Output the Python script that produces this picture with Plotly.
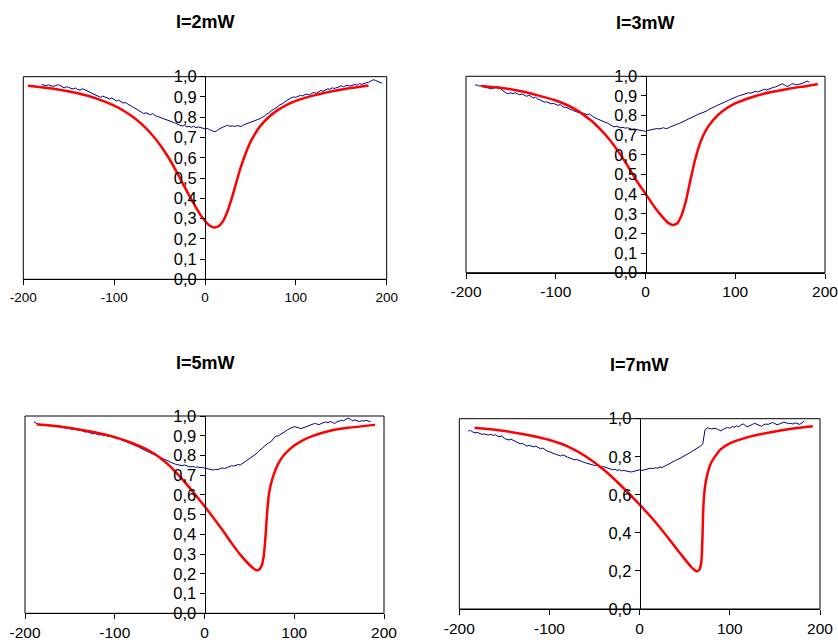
import numpy as np
import plotly.graph_objects as go

titles = ["I=2mW", "I=3mW", "I=5mW", "I=7mW"]
x_ticks = [-200, -100, 0, 100, 200]
x_tick_labels = ["-200", "-100", "0", "100", "200"]

# ---------- measured (blue) data, sampled every 2.5 units ----------
blue1_start, blue_step = -180.0, 2.5
blue1_y = [
    0.962, 0.958, 0.955, 0.960, 0.957, 0.952, 0.955, 0.960, 0.958, 0.950,
    0.945, 0.950, 0.948, 0.942, 0.940, 0.944, 0.936, 0.934, 0.940, 0.936,
    0.930, 0.926, 0.918, 0.912, 0.906, 0.902, 0.898, 0.904, 0.900, 0.894,
    0.890, 0.895, 0.886, 0.880, 0.884, 0.876, 0.870, 0.872, 0.864, 0.858,
    0.852, 0.846, 0.840, 0.834, 0.824, 0.818, 0.822, 0.816, 0.812, 0.818,
    0.808, 0.804, 0.800, 0.796, 0.794, 0.788, 0.784, 0.780, 0.775, 0.770,
    0.764, 0.760, 0.756, 0.760, 0.752, 0.755, 0.750, 0.756, 0.748, 0.752,
    0.750, 0.746, 0.742, 0.745, 0.738, 0.735, 0.728, 0.732, 0.740, 0.748,
    0.752, 0.756, 0.760, 0.755, 0.758, 0.754, 0.758, 0.757, 0.754, 0.762,
    0.766, 0.770, 0.776, 0.780, 0.784, 0.786, 0.792, 0.798, 0.804, 0.815,
    0.820, 0.830, 0.836, 0.844, 0.852, 0.862, 0.866, 0.874, 0.884, 0.890,
    0.896, 0.900, 0.898, 0.904, 0.908, 0.905, 0.912, 0.914, 0.910, 0.918,
    0.922, 0.918, 0.926, 0.932, 0.928, 0.934, 0.940, 0.938, 0.945, 0.942,
    0.948, 0.950, 0.955, 0.950, 0.956, 0.958, 0.954, 0.960, 0.962, 0.958,
    0.966, 0.962, 0.968, 0.970, 0.972, 0.978, 0.985, 0.982, 0.975, 0.972,
    0.968,
]
blue2_start = -190.0
blue2_y = [
    0.956, 0.955, 0.950, 0.952, 0.946, 0.944, 0.940, 0.936, 0.938, 0.942,
    0.948, 0.944, 0.930, 0.920, 0.914, 0.912, 0.916, 0.912, 0.916, 0.910,
    0.906, 0.910, 0.902, 0.898, 0.904, 0.896, 0.890, 0.894, 0.884, 0.880,
    0.872, 0.868, 0.870, 0.864, 0.860, 0.862, 0.855, 0.852, 0.856, 0.846,
    0.842, 0.840, 0.834, 0.830, 0.826, 0.822, 0.816, 0.818, 0.812, 0.806,
    0.804, 0.808, 0.798, 0.792, 0.786, 0.780, 0.776, 0.770, 0.766, 0.762,
    0.756, 0.750, 0.742, 0.746, 0.742, 0.738, 0.740, 0.736, 0.738, 0.734,
    0.730, 0.732, 0.728, 0.726, 0.724, 0.722, 0.720, 0.724, 0.726, 0.728,
    0.730, 0.734, 0.732, 0.736, 0.738, 0.734, 0.736, 0.742, 0.748, 0.752,
    0.756, 0.760, 0.764, 0.770, 0.776, 0.782, 0.786, 0.794, 0.798, 0.804,
    0.808, 0.812, 0.818, 0.822, 0.830, 0.834, 0.838, 0.846, 0.852, 0.856,
    0.862, 0.866, 0.872, 0.878, 0.884, 0.890, 0.893, 0.898, 0.902, 0.906,
    0.908, 0.912, 0.916, 0.914, 0.920, 0.924, 0.920, 0.926, 0.930, 0.934,
    0.930, 0.936, 0.940, 0.944, 0.946, 0.950, 0.958, 0.962, 0.956, 0.948,
    0.952, 0.960, 0.962, 0.956, 0.958, 0.960, 0.964, 0.970, 0.976, 0.970,
]
blue3_start = -190.0
blue3_y = [
    0.971, 0.962, 0.956, 0.952, 0.954, 0.956, 0.952, 0.955, 0.950, 0.948,
    0.946, 0.952, 0.948, 0.940, 0.938, 0.942, 0.935, 0.932, 0.936, 0.930,
    0.926, 0.928, 0.922, 0.918, 0.920, 0.914, 0.910, 0.912, 0.908, 0.904,
    0.906, 0.900, 0.902, 0.896, 0.898, 0.892, 0.888, 0.884, 0.886, 0.878,
    0.874, 0.870, 0.866, 0.860, 0.856, 0.852, 0.846, 0.840, 0.834, 0.828,
    0.824, 0.818, 0.812, 0.808, 0.802, 0.796, 0.792, 0.786, 0.780, 0.774,
    0.770, 0.764, 0.760, 0.756, 0.752, 0.750, 0.748, 0.752, 0.746, 0.744,
    0.742, 0.744, 0.740, 0.742, 0.738, 0.740, 0.736, 0.734, 0.730, 0.728,
    0.726, 0.730, 0.728, 0.734, 0.736, 0.734, 0.740, 0.744, 0.748, 0.746,
    0.750, 0.754, 0.752, 0.760, 0.770, 0.778, 0.786, 0.794, 0.798, 0.808,
    0.820, 0.830, 0.842, 0.852, 0.860, 0.866, 0.874, 0.890, 0.898, 0.900,
    0.906, 0.914, 0.922, 0.930, 0.938, 0.942, 0.946, 0.944, 0.940, 0.936,
    0.940, 0.944, 0.948, 0.952, 0.958, 0.962, 0.960, 0.956, 0.962, 0.966,
    0.970, 0.966, 0.972, 0.968, 0.962, 0.970, 0.974, 0.978, 0.976, 0.982,
    0.990, 0.984, 0.976, 0.980, 0.976, 0.972, 0.976, 0.974, 0.978, 0.976,
    0.971,
]
blue4_start = -190.0
blue4_y = [
    0.935, 0.938, 0.930, 0.926, 0.928, 0.924, 0.918, 0.920, 0.916, 0.914,
    0.918, 0.912, 0.916, 0.908, 0.906, 0.910, 0.896, 0.890, 0.888, 0.892,
    0.886, 0.880, 0.872, 0.868, 0.870, 0.862, 0.856, 0.860, 0.854, 0.852,
    0.856, 0.848, 0.842, 0.846, 0.836, 0.830, 0.826, 0.820, 0.818, 0.812,
    0.808, 0.804, 0.810, 0.802, 0.798, 0.794, 0.790, 0.784, 0.786, 0.780,
    0.776, 0.772, 0.768, 0.766, 0.762, 0.758, 0.754, 0.756, 0.750, 0.746,
    0.748, 0.744, 0.740, 0.736, 0.732, 0.734, 0.728, 0.732, 0.726, 0.728,
    0.724, 0.722, 0.720, 0.722, 0.726, 0.728, 0.732, 0.728, 0.732, 0.736,
    0.736, 0.740, 0.738, 0.742, 0.740, 0.746, 0.744, 0.752, 0.756, 0.762,
    0.770, 0.776, 0.782, 0.786, 0.792, 0.800, 0.806, 0.812, 0.818, 0.826,
    0.834, 0.840, 0.848, 0.856, 0.868, 0.942, 0.952, 0.948, 0.946, 0.950,
    0.948, 0.942, 0.936, 0.944, 0.948, 0.954, 0.950, 0.958, 0.955, 0.962,
    0.958, 0.968, 0.972, 0.962, 0.958, 0.966, 0.970, 0.976, 0.972, 0.965,
    0.960, 0.968, 0.972, 0.970, 0.976, 0.980, 0.974, 0.968, 0.972, 0.976,
    0.982, 0.978, 0.974, 0.976, 0.972, 0.978, 0.974, 0.970, 0.978, 0.988,
]

# ---------- fitted (red) curves ----------
red1_x = [-195, -180, -160, -140, -120, -100, -90, -80, -70, -60, -50, -40, -30, -20, -10, -5, 0, 5, 10, 15,
          20, 25, 30, 35, 40, 45, 50, 55, 60, 70, 80, 90, 100, 120, 140, 160, 180]
red1_y = [0.955, 0.948, 0.936, 0.918, 0.893, 0.857, 0.833, 0.803, 0.767, 0.722, 0.667, 0.600, 0.520, 0.435,
          0.355, 0.318, 0.288, 0.266, 0.256, 0.262, 0.288, 0.338, 0.408, 0.487, 0.562, 0.625, 0.677, 0.718,
          0.752, 0.800, 0.835, 0.861, 0.881, 0.908, 0.928, 0.944, 0.957]

red2_x = [-183, -160, -140, -120, -100, -80, -60, -50, -40, -30, -20, -10, 0, 10, 20, 25, 30, 35, 40, 45,
          50, 55, 60, 65, 70, 80, 90, 100, 120, 140, 160, 180, 192]
red2_y = [0.951, 0.941, 0.925, 0.903, 0.877, 0.837, 0.772, 0.728, 0.677, 0.615, 0.545, 0.468, 0.402, 0.335,
          0.278, 0.255, 0.243, 0.250, 0.290, 0.365, 0.470, 0.570, 0.650, 0.705, 0.745, 0.800, 0.836, 0.862,
          0.896, 0.920, 0.937, 0.951, 0.961]

red3_x = [-187, -160, -140, -120, -100, -80, -60, -50, -40, -30, -20, -10, 0, 10, 20, 30, 40, 50, 55, 58,
          61, 64, 66, 67.5, 69, 70.5, 72, 75, 80, 85, 90, 100, 110, 120, 140, 160, 190]
red3_y = [0.958, 0.946, 0.932, 0.915, 0.893, 0.862, 0.820, 0.790, 0.752, 0.705, 0.655, 0.600, 0.543, 0.483,
          0.422, 0.357, 0.296, 0.246, 0.226, 0.218, 0.222, 0.245, 0.290, 0.360, 0.460, 0.550, 0.610, 0.672,
          0.738, 0.780, 0.810, 0.850, 0.878, 0.898, 0.925, 0.940, 0.955]

red4_x = [-183, -160, -140, -120, -100, -80, -60, -40, -20, 0, 20, 40, 50, 57, 60, 63, 66, 68, 69, 69.8,
          70.5, 71.5, 73, 76, 80, 90, 100, 120, 150, 170, 192]
red4_y = [0.953, 0.942, 0.928, 0.910, 0.888, 0.855, 0.803, 0.733, 0.645, 0.548, 0.443, 0.322, 0.262, 0.222,
          0.208, 0.198, 0.205, 0.235, 0.290, 0.400, 0.520, 0.600, 0.660, 0.725, 0.775, 0.840, 0.870, 0.903,
          0.933, 0.948, 0.960]

blue_sets = [(blue1_start, blue1_y), (blue2_start, blue2_y), (blue3_start, blue3_y), (blue4_start, blue4_y)]
red_sets = [(red1_x, red1_y), (red2_x, red2_y), (red3_x, red3_y), (red4_x, red4_y)]
y_dticks = [0.1, 0.1, 0.1, 0.2]

W, H = 838, 644
# plot-area boxes in pixels: left, right, top, bottom
boxes = [(23.3, 386.7, 76.7, 279.3), (466, 825, 76.3, 272.7), (25, 384, 416, 613.3), (459.3, 820, 418.7, 609)]
title_pos = [(205, 22.5), (645, 23), (205, 362.5), (639, 365)]
xfont = [13.5, 15.5, 15.5, 15.5]

FONT = "Arial, Liberation Sans, sans-serif"
fig = go.Figure()
layout = dict(width=W, height=H, margin=dict(l=0, r=0, t=0, b=0, autoexpand=False), paper_bgcolor="white",
              plot_bgcolor="white", showlegend=False, separators=",.", font=dict(family=FONT, color="black"))
shapes, annotations = [], []

for i in range(4):
    k = "" if i == 0 else str(i + 1)
    bs, by = blue_sets[i]
    bx = bs + blue_step * np.arange(len(by))
    fig.add_trace(go.Scatter(x=bx, y=by, mode="lines", line=dict(color="#000080", width=1),
                             xaxis="x" + k, yaxis="y" + k, hoverinfo="skip"))
    rx, ry = red_sets[i]
    fig.add_trace(go.Scatter(x=rx, y=ry, mode="lines", line=dict(color="#FF0000", width=2.5, shape="spline", smoothing=0.6),
                             xaxis="x" + k, yaxis="y" + k, hoverinfo="skip"))
    l, r, t, b = boxes[i]
    xd = [l / W, r / W]
    yd = [1 - b / H, 1 - t / H]
    layout["xaxis" + k] = dict(domain=xd, anchor="y" + k, range=[-200, 200], tickmode="array",
                               tickvals=x_ticks, ticktext=x_tick_labels, automargin=False,
                               ticklabeloverflow="allow",
                               ticks="outside", ticklen=5, tickcolor="black", showline=True, linecolor="black",
                               linewidth=1, showgrid=False, zeroline=False,
                               tickfont=dict(size=xfont[i], family=FONT, color="black"))
    layout["yaxis" + k] = dict(domain=yd, anchor="free", position=(xd[0] + xd[1]) / 2, range=[0, 1],
                               dtick=y_dticks[i], tick0=0, tickformat=".1f", ticks="outside", ticklen=5,
                               automargin=False, ticklabeloverflow="allow",
                               tickcolor="black", showline=True, linecolor="black", linewidth=1,
                               showgrid=False, zeroline=False,
                               tickfont=dict(size=16.5, family=FONT, color="black"))
    shapes.append(dict(type="rect", xref="x" + k + " domain", yref="y" + k + " domain", x0=0, x1=1, y0=0, y1=1,
                       line=dict(color="black", width=1), layer="above"))
    tx, ty = title_pos[i]
    annotations.append(dict(text="<b>" + titles[i] + "</b>", x=tx / W, y=1 - ty / H, xref="paper", yref="paper",
                            showarrow=False, xanchor="center", yanchor="middle",
                            font=dict(size=18, family=FONT, color="black")))

layout["shapes"] = shapes
layout["annotations"] = annotations
fig.update_layout(**layout)
fig.write_html("out.html", config={"displayModeBar": False, "staticPlot": True},
               post_script="document.body.style.margin='0';document.body.style.overflow='hidden';")
